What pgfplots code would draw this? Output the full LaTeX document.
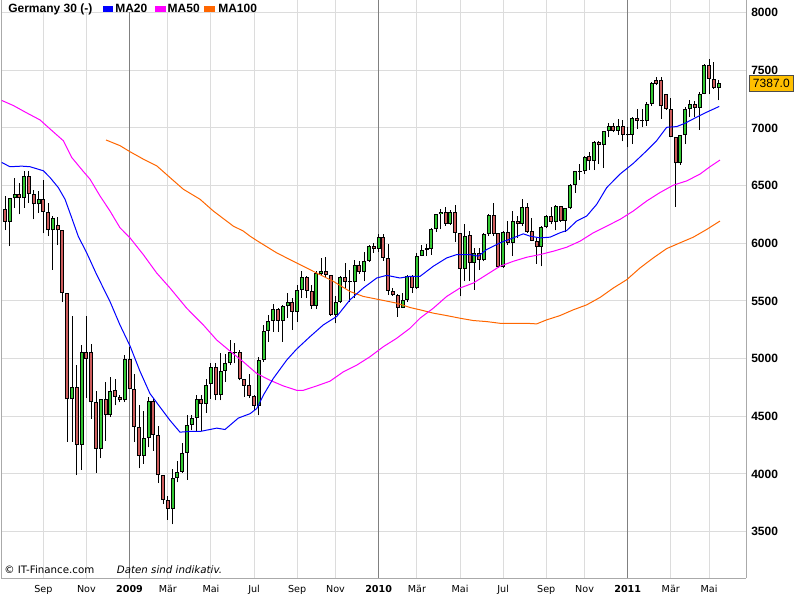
\documentclass[border=0pt]{standalone}
\usepackage{fontspec}
\setmainfont{DejaVu Sans}
\newfontfamily\lib{Liberation Sans}
\usepackage{pgfplots}
\usepackage{pgfplotstable}
\pgfplotsset{compat=1.18}
\definecolor{cgreen}{RGB}{50,200,50}
\definecolor{cred}{RGB}{205,92,92}
\definecolor{ma20}{RGB}{0,0,255}
\definecolor{ma50}{RGB}{255,0,255}
\definecolor{ma100}{RGB}{255,102,0}
\definecolor{gridc}{RGB}{220,220,220}
\definecolor{yearc}{RGB}{128,128,128}
\definecolor{framec}{RGB}{170,170,170}
\definecolor{pricebox}{RGB}{255,192,0}
\newcommand\lbold{\lib\bfseries\fontsize{9pt}{10pt}\selectfont}
\newcommand\lreg{\lib\fontsize{9pt}{10pt}\selectfont}
\newcommand\dejar{\fontsize{7.2pt}{8.5pt}\selectfont}
\newcommand\dejab{\bfseries\fontsize{7.2pt}{8.5pt}\selectfont}

\pgfplotstableread{
i O H L C t
0 6294 6411 6114 6187 -1
1 6187 6390 5975 6390 1
2 6390 6565 6309 6425 1
3 6425 6527 6251 6390 -1
4 6390 6623 6309 6582 1
5 6582 6623 6353 6431 -1
6 6431 6460 6207 6338 -1
7 6338 6454 6265 6382 1
8 6382 6547 6085 6271 -1
9 6271 6353 6062 6111 -1
10 6111 6240 5771 6216 1
11 6155 6231 5983 6111 -1
12 6111 6111 5490 5568 -1
13 5568 5568 4280 4647 -1
14 4647 5373 4280 4751 1
15 4751 4943 3990 4252 -1
16 4252 5117 4037 5059 1
17 5059 5373 4658 4995 -1
18 5059 5123 4478 4623 -1
19 4623 4717 4008 4217 -1
20 4217 4650 4135 4647 1
21 4647 4798 4289 4507 -1
22 4507 4839 4493 4717 1
23 4725 4827 4594 4667 -1
24 4667 4680 4623 4638 -1
25 4638 5030 4623 4995 1
26 4995 5103 4734 4734 -1
27 4734 4862 4275 4406 -1
28 4406 4594 4048 4159 -1
29 4159 4542 4086 4310 1
30 4310 4667 4231 4629 1
31 4629 4647 4202 4339 -1
32 4339 4412 3920 3990 -1
33 3990 3990 3737 3775 -1
34 3775 3810 3601 3694 -1
35 3694 4043 3563 3961 1
36 3961 4115 3926 4019 1
37 4019 4270 4010 4182 1
38 4182 4507 3950 4426 1
39 4426 4507 4377 4484 1
40 4484 4682 4368 4647 1
41 4647 4682 4368 4609 -1
42 4609 4827 4531 4775 1
43 4783 4958 4653 4929 1
44 4929 4958 4638 4687 -1
45 4687 5045 4638 4891 1
46 4891 5036 4798 4958 1
47 4958 5161 4943 5060 1
48 5050 5132 4958 5054 0
49 5060 5074 4812 4821 -1
50 4821 4827 4667 4763 -1
51 4769 4870 4661 4676 -1
52 4676 4682 4551 4589 -1
53 4589 5016 4507 4987 1
54 4987 5292 4972 5240 1
55 5240 5379 5147 5327 1
56 5327 5472 5234 5431 1
57 5431 5443 5234 5327 -1
58 5327 5461 5147 5452 1
59 5452 5568 5350 5495 1
60 5495 5524 5248 5408 -1
61 5408 5641 5321 5597 1
62 5597 5757 5524 5705 1
63 5705 5713 5524 5588 -1
64 5588 5640 5431 5460 -1
65 5460 5757 5431 5742 1
66 5734 5873 5728 5757 1
67 5757 5879 5699 5728 -1
68 5728 5728 5373 5379 -1
69 5379 5539 5306 5495 1
70 5495 5713 5481 5705 1
71 5705 5830 5612 5664 -1
72 5670 5771 5495 5661 0
73 5661 5859 5524 5815 1
74 5815 5844 5734 5751 -1
75 5751 5925 5670 5850 1
76 5850 5989 5838 5975 1
77 5975 6004 5917 5954 -1
78 5954 6077 5925 6053 1
79 6053 6077 5850 5873 -1
80 5873 5995 5553 5588 -1
81 5588 5612 5547 5553 -1
82 5553 5559 5365 5443 -1
83 5443 5568 5437 5510 1
84 5510 5728 5495 5713 1
85 5713 5728 5568 5612 -1
86 5612 5917 5606 5888 1
87 5888 5989 5888 5946 1
88 5946 5995 5888 5960 0
89 5954 6129 5902 6120 1
90 6120 6257 6100 6251 1
91 6251 6294 6120 6271 1
92 6271 6315 6150 6170 -1
93 6170 6286 6158 6271 1
94 6271 6332 6013 6091 -1
95 6091 6091 5539 5780 -1
96 5780 6164 5670 6062 1
97 6071 6106 5675 5830 -1
98 5830 5960 5597 5917 1
99 5917 5960 5771 5859 -1
100 5859 6091 5844 6082 1
101 6082 6251 6062 6245 1
102 6245 6353 6062 6082 -1
103 6091 6091 5786 5792 -1
104 5792 6106 5786 6100 1
105 6100 6193 5989 6004 -1
106 6004 6280 5888 6193 1
107 6193 6236 6047 6170 -1
108 6170 6382 6150 6315 1
109 6315 6353 6091 6100 -1
110 6106 6222 6018 6024 -1
111 6024 6047 5821 5966 -1
112 5966 6149 5800 6140 1
113 6140 6245 6129 6236 1
114 6236 6315 6164 6187 -1
115 6187 6332 6112 6324 1
116 6324 6324 6187 6193 -1
117 6193 6309 6100 6309 1
118 6303 6518 6295 6507 1
119 6507 6629 6440 6623 1
120 6622 6687 6547 6628 0
121 6623 6759 6599 6751 1
122 6759 6788 6634 6710 -1
123 6710 6890 6634 6881 1
124 6881 6890 6687 6852 -1
125 6852 6977 6652 6977 1
126 6977 7041 6919 7021 1
127 7021 7041 6963 6977 -1
128 6977 7079 6942 7021 1
129 7021 7065 6884 6942 -1
130 6942 7006 6832 6937 0
131 6942 7094 6861 7088 1
132 7088 7166 6992 7059 -1
133 7059 7166 7006 7065 0
134 7059 7224 7021 7210 1
135 7210 7399 7195 7390 1
136 7413 7442 7370 7384 -1
137 7413 7442 7079 7187 -1
138 7291 7297 7158 7166 -1
139 7166 7262 6919 6925 -1
140 6925 6925 6315 6693 -1
141 6693 6942 6681 6942 1
142 6942 7181 6861 7166 1
143 7166 7239 7094 7204 1
144 7204 7233 7094 7175 -1
145 7175 7312 6983 7297 1
146 7297 7553 7291 7544 1
147 7544 7602 7291 7428 -1
148 7428 7573 7341 7349 -1
149 7349 7413 7239 7387 1
}\candles

\pgfplotstableread{
x y
-0.69 6701
1.04 6664
3.49 6669
5.22 6664
8.0 6629
9.39 6571
11.13 6483
12.53 6382
13.92 6222
15.3 6060
17.06 5917
19.14 5728
21.92 5495
24.0 5292
26.1 5110
28.18 4890
30.27 4696
32.36 4580
34.45 4464
36.53 4362
38.62 4368
40.71 4368
42.8 4385
44.2 4397
45.93 4385
47.33 4435
48.71 4484
51.15 4522
52.55 4566
53.24 4623
53.93 4682
56.0 4827
58.81 4987
60.9 5083
63.67 5190
66.45 5292
69.25 5365
72.03 5510
74.8 5612
77.6 5699
79.69 5722
82.46 5699
84.55 5713
86.64 5713
89.42 5801
92.21 5873
94.3 5902
97.08 5902
98.81 5888
100.56 5946
103.34 6004
106.12 6047
108.2 6082
109.6 6062
111.69 6047
113.78 6053
115.87 6091
117.27 6111
119.35 6193
121.44 6236
123.53 6338
125.62 6483
128.39 6600
131.17 6693
133.97 6803
136.05 6890
138.14 7006
140.23 7012
141.96 7041
144.4 7094
146.49 7137
149.12 7187
}\maA

\pgfplotstableread{
x y
-0.69 7239
1.73 7195
4.53 7131
7.31 7070
9.39 6992
12.17 6890
13.92 6745
16.35 6623
17.75 6556
19.83 6411
21.92 6280
24.0 6135
26.1 6047
28.87 5902
31.67 5742
34.45 5612
37.93 5437
38.62 5408
41.4 5292
44.2 5161
46.97 5065
49.75 4972
52.55 4871
55.32 4812
58.1 4763
60.9 4725
62.28 4725
65.07 4763
67.85 4804
70.63 4885
73.42 4943
76.2 5016
78.98 5103
81.77 5176
84.55 5263
86.64 5350
89.42 5437
92.21 5539
94.99 5612
97.77 5655
100.56 5728
103.34 5801
106.12 5844
108.92 5879
111.69 5902
114.47 5931
117.27 5966
120.04 6018
122.82 6091
125.62 6149
128.39 6207
131.17 6280
133.97 6367
136.74 6440
139.52 6504
142.32 6541
145.09 6600
147.18 6664
149.27 6722
}\maB

\pgfplotstableread{
x y
21.09 6896
24.0 6847
26.1 6794
28.87 6730
31.67 6672
34.45 6570
37.22 6469
40.71 6382
43.49 6280
47.66 6149
49.75 6106
51.15 6062
52.55 6024
56.72 5917
60.9 5829
65.07 5742
68.54 5670
72.03 5582
74.8 5539
78.29 5510
81.77 5481
84.55 5443
86.64 5423
89.42 5394
92.21 5373
94.99 5350
97.77 5330
100.56 5321
103.34 5306
108.92 5306
111.0 5301
113.09 5336
115.87 5373
118.64 5423
121.44 5466
124.22 5530
127.0 5612
129.79 5684
132.57 5786
135.34 5873
138.14 5954
140.92 6004
143.7 6053
146.49 6120
149.27 6193
}\maC

\begin{document}
\begin{tikzpicture}
\useasboundingbox (0pt,0pt) rectangle (600pt,-450pt);
\begin{axis}[
  at={(0.75pt,0pt)}, anchor=north west,
  scale only axis, width=558.75pt, height=433.5pt,
  xmin=-0.835, xmax=154.7, ymin=3097, ymax=8110,
  axis x line*=bottom, axis y line*=box,
  axis line style={draw=framec, line width=0.75pt},
  major tick length=0pt,
  ytick={3500,4000,4500,5000,5500,6000,6500,7000,7500,8000},
  yticklabels={3500,4000,4500,5000,5500,6000,6500,7000,7500,8000},
  yticklabel pos=right,
  yticklabel style={anchor=west, inner sep=0pt, xshift=3.75pt, font=\lbold},
  xtick={8,17,34,43,52,61,69,86,95,104,113,121,139,147},
  xticklabels={Sep,Nov,Mär,Mai,Jul,Sep,Nov,Mär,Mai,Jul,Sep,Nov,Mär,Mai},
  extra x ticks={26,78,130},
  extra x tick labels={2009,2010,2011},
  extra x tick style={xticklabel style={font=\dejab}, major grid style={draw=yearc, line width=0.75pt}},
  xticklabel style={anchor=base, inner sep=0pt, yshift=-10.9pt, font=\dejar},
  xmajorgrids, ymajorgrids,
  major grid style={draw=gridc, line width=0.75pt},
  clip=true,
]
% wicks
\addplot[draw=none, mark=none, forget plot,
  error bars/.cd, y dir=plus, y explicit, error mark=none,
  error bar style={draw=black, line width=0.75pt}]
  table[x=i, y=L, y error plus expr=\thisrow{H}-\thisrow{L}] {\candles};
% body outlines
\addplot[draw=none, mark=none, forget plot,
  error bars/.cd, y dir=plus, y explicit, error mark=none,
  error bar style={draw=black, line width=3pt}]
  table[x=i, y expr={min(\thisrow{O},\thisrow{C})}, y error plus expr={max(abs(\thisrow{C}-\thisrow{O}),9)}] {\candles};
% green bodies
\addplot[draw=none, mark=none, forget plot,
  restrict expr to domain={\thisrow{t}}{0.5:1.5},
  error bars/.cd, y dir=plus, y explicit, error mark=none,
  error bar style={draw=cgreen, line width=1.5pt}]
  table[x=i, y expr={\thisrow{O}+8.7}, y error plus expr={\thisrow{C}-\thisrow{O}-17.4}] {\candles};
% red bodies
\addplot[draw=none, mark=none, forget plot,
  restrict expr to domain={\thisrow{t}}{-1.5:-0.5},
  error bars/.cd, y dir=plus, y explicit, error mark=none,
  error bar style={draw=cred, line width=1.5pt}]
  table[x=i, y expr={\thisrow{C}+8.7}, y error plus expr={\thisrow{O}-\thisrow{C}-17.4}] {\candles};
% moving averages
\addplot[ma100, line width=0.75pt, mark=none] table {\maC};
\addplot[ma50, line width=0.75pt, mark=none] table {\maB};
\addplot[ma20, line width=0.75pt, mark=none] table {\maA};
\end{axis}
% legend strip
\fill[white] (1.5pt,0pt) rectangle (196pt,-9.1pt);
\node[anchor=base west, inner sep=0pt, font=\lbold] at (6pt,-9.1pt) {Germany 30 (-)};
\fill[ma20] (77.25pt,-4.7pt) rectangle (84.75pt,-9pt);
\node[anchor=base west, inner sep=0pt, font=\lbold] at (86.25pt,-9.1pt) {MA20};
\fill[ma50] (116.5pt,-4.7pt) rectangle (124.3pt,-9pt);
\node[anchor=base west, inner sep=0pt, font=\lbold] at (125.6pt,-9.1pt) {MA50};
\fill[ma100] (153pt,-4.7pt) rectangle (161.25pt,-9pt);
\node[anchor=base west, inner sep=0pt, font=\lbold] at (163.5pt,-9.1pt) {MA100};
% footnote
\node[anchor=base west, inner sep=0pt, font=\fontsize{7.7pt}{9pt}\selectfont] at (3pt,-430.1pt) {© IT-Finance.com};
\node[anchor=base west, inner sep=0pt, font=\itshape\fontsize{7.7pt}{9pt}\selectfont] at (87.5pt,-430.1pt) {Daten sind indikativ.};
% last price box
\node[anchor=west, draw=black!70, fill=pricebox, line width=0.5pt, minimum width=32.5pt, minimum height=12.5pt, inner sep=0pt, font=\lreg] at (562pt,-62.5pt) {7387.0};
\end{tikzpicture}
\end{document}
